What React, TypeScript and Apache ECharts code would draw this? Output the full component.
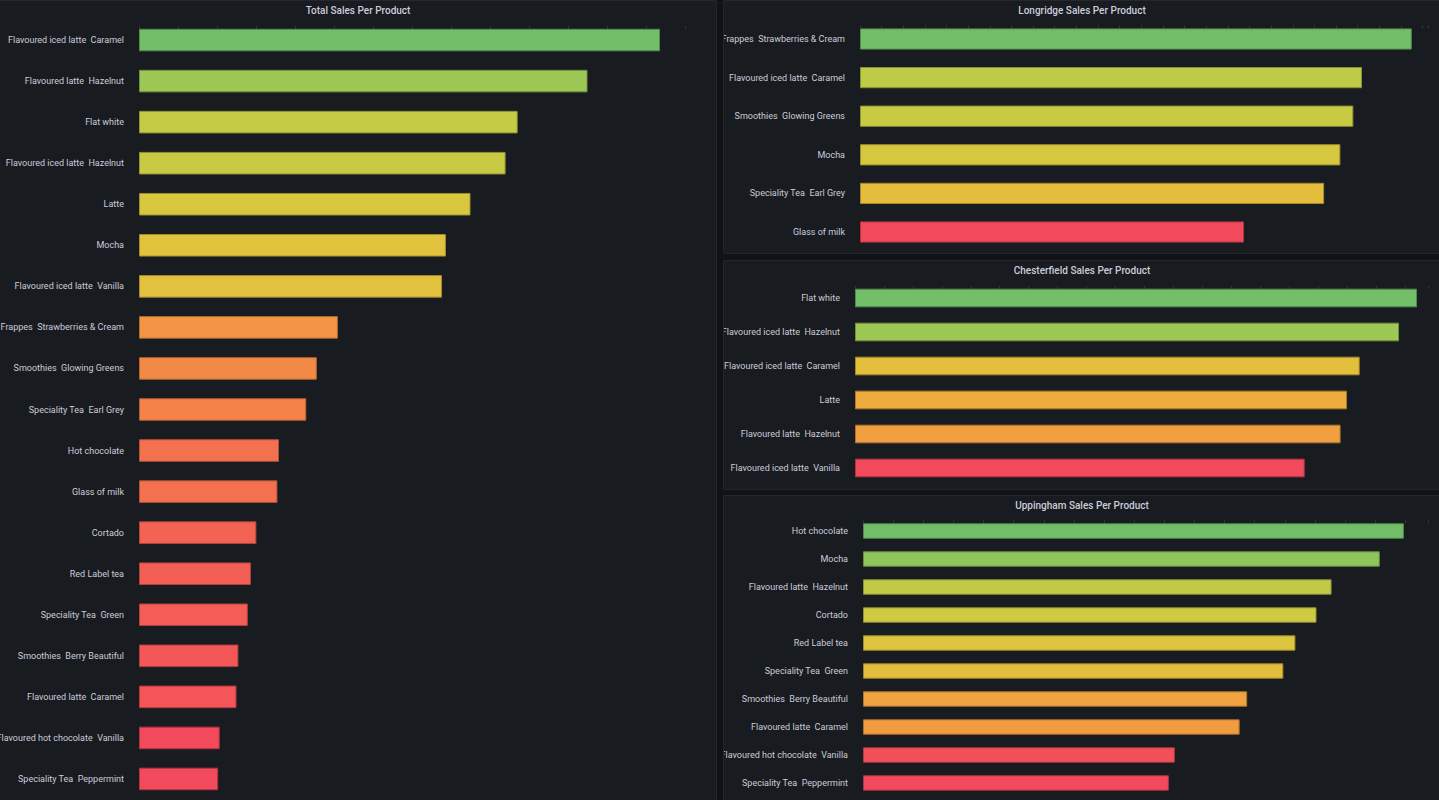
import React, { useEffect, useRef } from "react";
import * as echarts from "echarts";

// ---------- data ----------
const totalProducts = [
  "Flavoured iced latte  Caramel",
  "Flavoured latte  Hazelnut",
  "Flat white",
  "Flavoured iced latte  Hazelnut",
  "Latte",
  "Mocha",
  "Flavoured iced latte  Vanilla",
  "Frappes  Strawberries & Cream",
  "Smoothies  Glowing Greens",
  "Speciality Tea  Earl Grey",
  "Hot chocolate",
  "Glass of milk",
  "Cortado",
  "Red Label tea",
  "Speciality Tea  Green",
  "Smoothies  Berry Beautiful",
  "Flavoured latte  Caramel",
  "Flavoured hot chocolate  Vanilla",
  "Speciality Tea  Peppermint",
];
const totalSales = [1336, 1150, 971, 940, 850, 787, 777, 510, 456, 429, 359, 355, 301, 287, 279, 255, 250, 207, 203];

const longridgeProducts = [
  "Frappes  Strawberries & Cream",
  "Flavoured iced latte  Caramel",
  "Smoothies  Glowing Greens",
  "Mocha",
  "Speciality Tea  Earl Grey",
  "Glass of milk",
];
const longridgeSales = [510, 464, 456, 444, 429, 355];

const chesterfieldProducts = [
  "Flat white",
  "Flavoured iced latte  Hazelnut",
  "Flavoured iced latte  Caramel",
  "Latte",
  "Flavoured latte  Hazelnut",
  "Flavoured iced latte  Vanilla",
];
const chesterfieldSales = [971, 940, 872, 850, 839, 777];

const uppinghamProducts = [
  "Hot chocolate",
  "Mocha",
  "Flavoured latte  Hazelnut",
  "Cortado",
  "Red Label tea",
  "Speciality Tea  Green",
  "Smoothies  Berry Beautiful",
  "Flavoured latte  Caramel",
  "Flavoured hot chocolate  Vanilla",
  "Speciality Tea  Peppermint",
];
const uppinghamSales = [359, 343, 311, 301, 287, 279, 255, 250, 207, 203];

// ---------- colour scheme (red -> yellow -> green, basis interpolation) ----------
const SCHEME = [
  [242, 73, 92],
  [250, 222, 42],
  [115, 191, 105],
];

function basis(t1: number, v0: number, v1: number, v2: number, v3: number) {
  const t2 = t1 * t1;
  const t3 = t2 * t1;
  return (
    ((1 - 3 * t1 + 3 * t2 - t3) * v0 +
      (4 - 6 * t2 + 3 * t3) * v1 +
      (1 + 3 * t1 + 3 * t2 - 3 * t3) * v2 +
      t3 * v3) /
    6
  );
}

function schemeColor(t: number, k = 1) {
  const n = SCHEME.length - 1;
  const tt = Math.max(0, Math.min(1, t));
  const i = tt >= 1 ? n - 1 : Math.floor(tt * n);
  const out: number[] = [];
  for (let c = 0; c < 3; c++) {
    const v1 = SCHEME[i][c];
    const v2 = SCHEME[i + 1][c];
    const v0 = i > 0 ? SCHEME[i - 1][c] : 2 * v1 - v2;
    const v3 = i < n - 1 ? SCHEME[i + 2][c] : 2 * v2 - v1;
    const v = basis((tt - i / n) * n, v0, v1, v2, v3) * k;
    out.push(Math.round(Math.max(0, Math.min(255, v))));
  }
  return `rgb(${out[0]},${out[1]},${out[2]})`;
}

const FONT = "Roboto, 'Noto Sans', sans-serif";
const TEXT = "#ccccdc";

type PanelDef = {
  title: string;
  cats: string[];
  vals: number[];
  left: number;
  top: number;
  width: number;
  height: number;
  gridLeft: number;
  gridTop: number;
  gridWidth: number;
  gridHeight: number;
  max: number;
  interval: number;
};

const PANELS: PanelDef[] = [
  {
    title: "Total Sales Per Product",
    cats: totalProducts,
    vals: totalSales,
    left: -1, top: 0, width: 718, height: 802,
    gridLeft: 140, gridTop: 19.5, gridWidth: 546, gridHeight: 780,
    max: 1400, interval: 100,
  },
  {
    title: "Longridge Sales Per Product",
    cats: longridgeProducts,
    vals: longridgeSales,
    left: 723, top: 0, width: 718, height: 254,
    gridLeft: 137, gridTop: 19.7, gridWidth: 568, gridHeight: 231.6,
    max: 525, interval: 20,
  },
  {
    title: "Chesterfield Sales Per Product",
    cats: chesterfieldProducts,
    vals: chesterfieldSales,
    left: 723, top: 260, width: 718, height: 230,
    gridLeft: 132, gridTop: 21, gridWidth: 573, gridHeight: 204,
    max: 990, interval: 50,
  },
  {
    title: "Uppingham Sales Per Product",
    cats: uppinghamProducts,
    vals: uppinghamSales,
    left: 723, top: 495, width: 718, height: 307,
    gridLeft: 140, gridTop: 22, gridWidth: 565, gridHeight: 280,
    max: 375, interval: 20,
  },
];

const BAR_RATIO = 0.55;

function Panel({ def }: { def: PanelDef }) {
  const ref = useRef<HTMLDivElement>(null);
  useEffect(() => {
    if (!ref.current) return;
    const chart = echarts.init(ref.current, undefined, { renderer: "svg" });
    const mn = Math.min(...def.vals);
    const mx = Math.max(...def.vals);
    const band = def.gridHeight / def.cats.length;
    const tickOffset = -(band * (1 - BAR_RATIO)) / 2;
    chart.setOption({
      animation: false,
      backgroundColor: "transparent",
      title: {
        text: def.title,
        left: "center",
        top: 0,
        textStyle: { color: TEXT, fontSize: 10, fontWeight: 500, fontFamily: FONT },
      },
      grid: {
        left: def.gridLeft,
        top: def.gridTop,
        width: def.gridWidth,
        height: def.gridHeight,
        containLabel: false,
        outerBoundsMode: "none",
      },
      xAxis: {
        type: "value",
        min: 0,
        max: def.max,
        interval: def.interval,
        position: "top",
        offset: tickOffset,
        axisLine: { show: false },
        axisTick: { show: true, length: 3, lineStyle: { color: "rgba(204,204,220,0.14)", width: 1 } },
        axisLabel: { show: false },
        splitLine: { show: false },
      },
      yAxis: {
        type: "category",
        data: def.cats,
        inverse: true,
        axisLine: { show: false },
        axisTick: { show: false },
        axisLabel: { color: TEXT, fontSize: 9, fontFamily: FONT, margin: 15 },
        splitLine: { show: false },
      },
      series: [
        {
          type: "bar",
          barWidth: `${BAR_RATIO * 100}%`,
          data: def.vals.map((v) => {
            const t = mx === mn ? 1 : (v - mn) / (mx - mn);
            return {
              value: v,
              itemStyle: { color: schemeColor(t), borderColor: schemeColor(t, 0.72), borderWidth: 1 },
            };
          }),
        },
      ],
    });
    return () => chart.dispose();
  }, [def]);

  return (
    <div
      style={{
        position: "absolute",
        left: def.left,
        top: def.top,
        width: def.width,
        height: def.height,
        background: "#181b1f",
        border: "1px solid rgba(204,204,220,0.07)",
        borderRadius: 2,
        boxSizing: "border-box",
        overflow: "hidden",
      }}
    >
      <div ref={ref} style={{ position: "absolute", left: -1, top: -1, width: def.width, height: def.height }} />
    </div>
  );
}

export default function App() {
  return (
    <div
      style={{
        position: "fixed",
        left: 0,
        top: 0,
        width: 1439,
        height: 800,
        background: "#111217",
        overflow: "hidden",
      }}
    >
      {PANELS.map((p) => (
        <Panel key={p.title} def={p} />
      ))}
    </div>
  );
}
